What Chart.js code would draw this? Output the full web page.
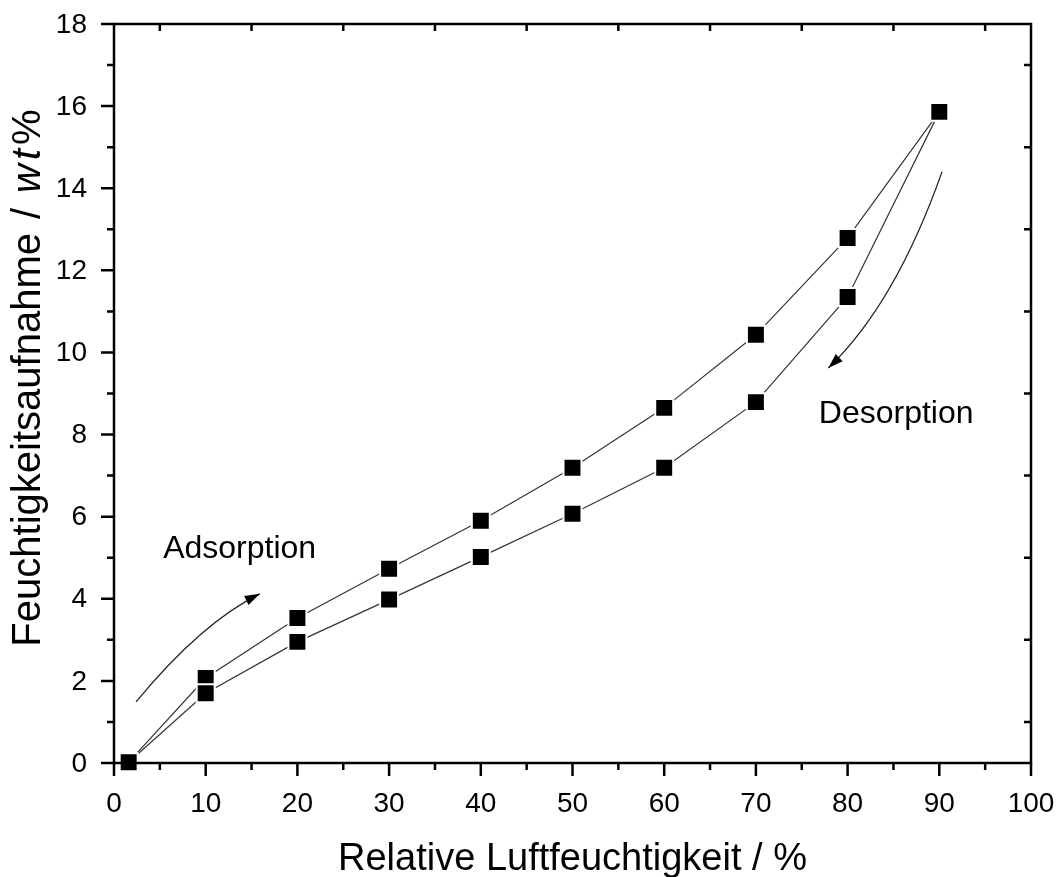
<!DOCTYPE html>
<html>
<head>
<meta charset="utf-8">
<script src="https://cdn.jsdelivr.net/npm/chart.js@4.4.1/dist/chart.umd.min.js"></script>
<style>
  html, body { margin: 0; padding: 0; background: #fff; }
  #wrap { width: 1061px; height: 877px; }
</style>
</head>
<body>
<div id="wrap"><canvas id="sorption"></canvas></div>
<script>
const humidity = [1.6, 10, 20, 30, 40, 50, 60, 70, 80, 90];
const adsorption = [0.02, 1.7, 2.95, 3.98, 5.02, 6.07, 7.19, 8.79, 11.35, 15.86];
const desorption = [0.02, 2.07, 3.53, 4.73, 5.9, 7.19, 8.65, 10.43, 12.79, 15.86];

const xTicks = [0, 10, 20, 30, 40, 50, 60, 70, 80, 90, 100];
const yTicks = [0, 2, 4, 6, 8, 10, 12, 14, 16, 18];

const xTitle = 'Relative Luftfeuchtigkeit / %';
// [Text, Stil, Abstand danach]
const yTitleParts = [['Feuchtigkeitsaufnahme', '', 14], ['/', '', 15], ['w', 'italic ', 4], ['t', 'italic ', 4], ['%', '', 0]];

// Pfeile (Start, Kontrollpunkt, Spitze) in Datenkoordinaten
const adsArrow = [[2.4, 1.49], [9.6, 3.43], [15.9, 4.12]];
const desArrow = [[90.3, 14.4], [85.2, 11.18], [77.9, 9.62]];
const adsLabel = ['Adsorption', 13.7, 4.99];
const desLabel = ['Desorption', 85.3, 8.28];

const FONT = "'Liberation Sans', Arial, sans-serif";

function toXY(arr) {
  return humidity.map((h, i) => ({ x: h, y: arr[i] }));
}

function arrow(ctx, xs, ys, pts) {
  const p = pts.map(q => [xs.getPixelForValue(q[0]), ys.getPixelForValue(q[1])]);
  ctx.beginPath();
  ctx.moveTo(p[0][0], p[0][1]);
  ctx.quadraticCurveTo(p[1][0], p[1][1], p[2][0], p[2][1]);
  ctx.strokeStyle = '#222';
  ctx.lineWidth = 1.2;
  ctx.stroke();
  const ang = Math.atan2(p[2][1] - p[1][1], p[2][0] - p[1][0]);
  const len = 15, half = 5;
  ctx.beginPath();
  ctx.moveTo(p[2][0], p[2][1]);
  ctx.lineTo(p[2][0] - len * Math.cos(ang) + half * Math.sin(ang), p[2][1] - len * Math.sin(ang) - half * Math.cos(ang));
  ctx.lineTo(p[2][0] - len * Math.cos(ang) - half * Math.sin(ang), p[2][1] - len * Math.sin(ang) + half * Math.cos(ang));
  ctx.closePath();
  ctx.fillStyle = '#000';
  ctx.fill();
}

const framePlugin = {
  id: 'frame',
  afterDraw(chart) {
    const ctx = chart.ctx;
    const a = chart.chartArea;
    const xs = chart.scales.x, ys = chart.scales.y;
    ctx.save();
    ctx.strokeStyle = '#000';
    ctx.lineWidth = 2.5;
    ctx.strokeRect(a.left, a.top, a.right - a.left, a.bottom - a.top);

    ctx.beginPath();
    // x: Haupt- und Nebenstriche unten, Nebenstriche oben nach innen
    for (let v = 0; v <= 100; v += 5) {
      const px = xs.getPixelForValue(v);
      const major = v % 10 === 0;
      ctx.moveTo(px, a.bottom);
      ctx.lineTo(px, a.bottom + (major ? 13 : 7));
      if (!major) {
        ctx.moveTo(px, a.top);
        ctx.lineTo(px, a.top + 7);
      }
    }
    // y: links nach aussen, rechts Nebenstriche nach innen
    for (let v = 0; v <= 18; v += 1) {
      const py = ys.getPixelForValue(v);
      const major = v % 2 === 0;
      ctx.moveTo(a.left, py);
      ctx.lineTo(a.left - (major ? 13 : 7), py);
      if (!major) {
        ctx.moveTo(a.right, py);
        ctx.lineTo(a.right - 7, py);
      }
    }
    ctx.stroke();

    // Beschriftung der Achsen
    ctx.fillStyle = '#000';
    ctx.font = '28px ' + FONT;
    ctx.textAlign = 'center';
    ctx.textBaseline = 'alphabetic';
    xTicks.forEach(v => ctx.fillText(String(v), xs.getPixelForValue(v), a.bottom + 49));
    ctx.textAlign = 'right';
    ctx.textBaseline = 'middle';
    yTicks.forEach(v => ctx.fillText(String(v), a.left - 27, ys.getPixelForValue(v) + 1));

    // Achsentitel
    ctx.font = '38px ' + FONT;
    ctx.textAlign = 'center';
    ctx.textBaseline = 'alphabetic';
    ctx.fillText(xTitle, (a.left + a.right) / 2, 870);

    ctx.save();
    ctx.translate(40, 378);
    ctx.rotate(-Math.PI / 2);
    ctx.textAlign = 'left';
    let total = 0;
    yTitleParts.forEach(([t, st, gap]) => {
      ctx.font = st + '40px ' + FONT;
      total += ctx.measureText(t).width + gap;
    });
    let cx = -total / 2;
    yTitleParts.forEach(([t, st, gap]) => {
      ctx.font = st + '40px ' + FONT;
      ctx.fillText(t, cx, 0);
      cx += ctx.measureText(t).width + gap;
    });
    ctx.restore();

    // Pfeile und Beschriftung
    arrow(ctx, xs, ys, adsArrow);
    arrow(ctx, xs, ys, desArrow);
    ctx.fillStyle = '#000';
    ctx.font = '32px ' + FONT;
    ctx.textAlign = 'center';
    ctx.textBaseline = 'alphabetic';
    [adsLabel, desLabel].forEach(([t, x, y]) => {
      ctx.fillText(t, xs.getPixelForValue(x), ys.getPixelForValue(y));
    });
    ctx.restore();
  }
};

const pointStyle = {
  showLine: true,
  borderColor: '#333',
  borderWidth: 1.2,
  pointStyle: 'rect',
  pointRadius: 12.7,
  pointBackgroundColor: '#000',
  pointBorderColor: '#fff',
  pointBorderWidth: 2,
  clip: false
};

new Chart(document.getElementById('sorption'), {
  type: 'scatter',
  data: {
    datasets: [
      Object.assign({ label: 'Adsorption', data: toXY(adsorption) }, pointStyle),
      Object.assign({ label: 'Desorption', data: toXY(desorption) }, pointStyle)
    ]
  },
  options: {
    responsive: true,
    maintainAspectRatio: false,
    animation: false,
    events: [],
    layout: { autoPadding: false, padding: { top: 24, right: 30, left: 0, bottom: 0 } },
    plugins: { legend: { display: false }, tooltip: { enabled: false } },
    scales: {
      x: {
        type: 'linear',
        min: 0,
        max: 100,
        afterFit: s => { s.height = 114; },
        grid: { display: false, drawTicks: false },
        border: { display: false },
        ticks: { display: false }
      },
      y: {
        type: 'linear',
        min: 0,
        max: 18,
        afterFit: s => { s.width = 114; },
        grid: { display: false, drawTicks: false },
        border: { display: false },
        ticks: { display: false }
      }
    }
  },
  plugins: [framePlugin]
});
</script>
</body>
</html>
